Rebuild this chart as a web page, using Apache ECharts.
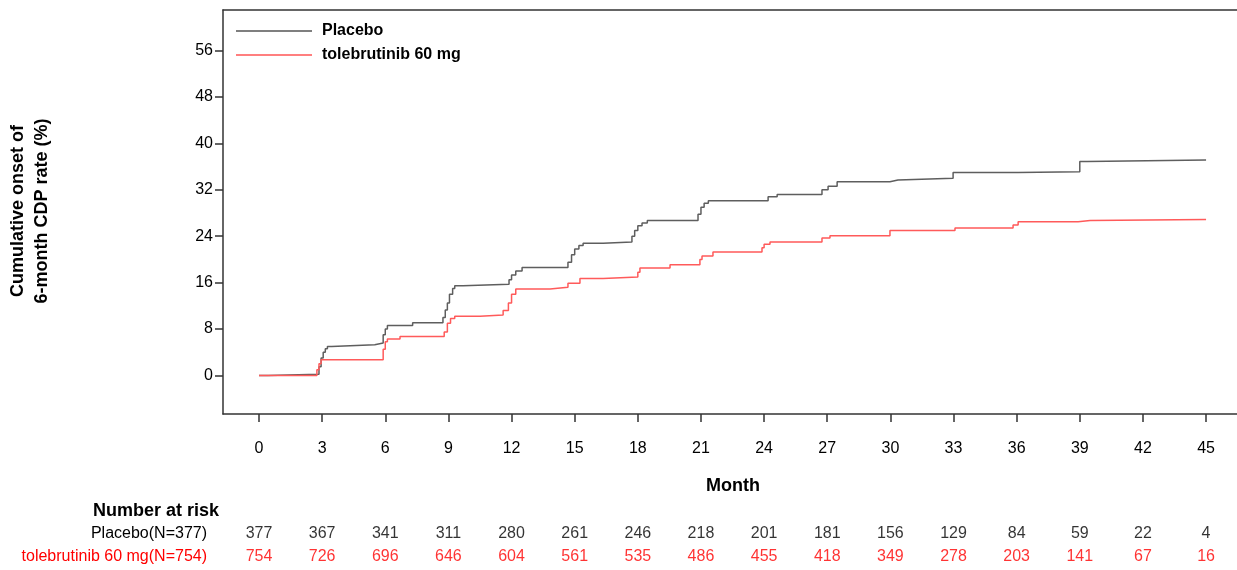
<!DOCTYPE html>
<html><head><meta charset="utf-8">
<script src="https://cdn.jsdelivr.net/npm/echarts@6/dist/echarts.min.js"></script>
<style>html,body{margin:0;padding:0;background:#fff}#c{width:1237px;height:570px}</style>
</head><body><div id="c"></div>
<script>
// ---------- data ----------
const monthTicks = [0,3,6,9,12,15,18,21,24,27,30,33,36,39,42,45];
const yTicks = [0,8,16,24,32,40,48,56];
const seriesNames = ['Placebo', 'tolebrutinib 60 mg'];
const riskRowLabels = ['Placebo(N=377)', 'tolebrutinib 60 mg(N=754)'];
const placeboAtRisk = [377,367,341,311,280,261,246,218,201,181,156,129,84,59,22,4];
const toleAtRisk    = [754,726,696,646,604,561,535,486,455,418,349,278,203,141,67,16];

const placeboCurve = [
  [0,0],[0.43,0.2],[2.85,1.5],[2.95,3.0],[3.05,4.0],[3.15,4.6],[3.25,5.0],[3.45,5.3],
  [5.5,5.6],[5.9,7.0],[6.0,8.0],[6.1,8.6],[7.3,9.1],
  [8.74,10.0],[8.85,11.3],[8.95,12.5],[9.05,14.0],[9.2,15.0],[9.3,15.45],[9.69,15.7],
  [11.88,16.5],[12.0,17.3],[12.2,18.0],[12.5,18.6],
  [14.68,19.5],[14.85,20.8],[15.0,21.8],[15.2,22.4],[15.4,22.8],[16.35,23.0],
  [17.72,24.0],[17.85,25.0],[18.0,25.8],[18.2,26.3],[18.45,26.7],
  [20.86,27.8],[21.0,29.0],[21.15,29.7],[21.35,30.1],
  [24.19,30.8],[24.62,31.2],[26.75,32.0],[27.04,32.6],[27.47,33.4],
  [29.98,33.7],[30.36,34.0],[32.98,35.0],[36.07,35.1],[39.0,36.9],[39.35,37.15],[45.0,37.15]
];
const toleCurve = [
  [0,0],[2.75,1.0],[2.85,2.0],[2.95,2.7],
  [5.9,4.5],[6.0,5.8],[6.1,6.3],[6.7,6.7],
  [8.8,7.5],[8.95,9.0],[9.1,9.8],[9.3,10.2],[10.5,10.4],
  [11.6,11.2],[11.85,12.5],[12.0,14.0],[12.2,14.9],
  [13.83,15.2],[14.68,15.9],[15.25,16.7],[16.35,16.95],
  [18.0,17.8],[18.1,18.5],[19.53,19.06],
  [20.95,20.0],[21.05,20.6],[21.57,21.3],
  [23.9,22.0],[24.0,22.6],[24.28,23.0],[26.75,23.7],[27.13,24.1],
  [29.98,25.0],[33.07,25.4],[35.83,25.95],[36.07,26.5],[38.92,26.7],[39.49,26.9],[45.0,26.9]
];

// ---------- chart ----------
const FONT = '"Liberation Sans",Arial,sans-serif';
const FS = 16;
const X_MIN = -1.711, X_MAX = 46.47;
const Y_MIN = -6.65, Y_MAX = 63;
const axisCol = '#333';

const chart = echarts.init(document.getElementById('c'), null, {renderer:'canvas'});

const riskData = [];
monthTicks.forEach((m,i)=>{
  riskData.push({value:[m,1,placeboAtRisk[i]], label:{color:'#000'}});
  riskData.push({value:[m,0,toleAtRisk[i]], label:{color:'#ff0000'}});
});

chart.setOption({
  animation:false,
  backgroundColor:'#fff',
  textStyle:{fontFamily:FONT},
  grid:[
    {left:223, right:0, top:10, bottom:156, outerBoundsMode:'none', containLabel:false},
    {left:223, right:0, top:522, height:46, outerBoundsMode:'none', containLabel:false}
  ],
  legend:{
    orient:'vertical', left:236, top:23, padding:0, itemGap:8, itemWidth:76, itemHeight:1.2,
    icon:'rect',
    textStyle:{fontFamily:FONT, fontSize:16, fontWeight:'bold', color:'#000', padding:[0,0,0,5]},
    data:[
      {name:seriesNames[0], itemStyle:{color:'#000'}},
      {name:seriesNames[1], itemStyle:{color:'#ff0000'}}
    ]
  },
  xAxis:[
    {type:'value', gridIndex:0, min:X_MIN, max:X_MAX, position:'bottom',
     axisLine:{show:true, onZero:false, lineStyle:{color:axisCol, width:1.5}},
     axisTick:{show:true, length:8, customValues:monthTicks, lineStyle:{color:axisCol, width:1.5}},
     axisLabel:{show:true, customValues:monthTicks, margin:27, fontSize:FS, color:'#000', fontFamily:FONT},
     splitLine:{show:false}},
    {type:'value', gridIndex:0, min:X_MIN, max:X_MAX, position:'top',
     axisLine:{show:true, onZero:false, lineStyle:{color:axisCol, width:1.5}},
     axisTick:{show:false}, axisLabel:{show:false}, splitLine:{show:false}},
    {type:'value', gridIndex:1, min:X_MIN, max:X_MAX, show:false}
  ],
  yAxis:[
    {type:'value', gridIndex:0, min:Y_MIN, max:Y_MAX,
     axisLine:{show:true, onZero:false, lineStyle:{color:axisCol, width:1.5}},
     axisTick:{show:true, length:8, customValues:yTicks, lineStyle:{color:axisCol, width:1.5}},
     axisLabel:{show:true, customValues:yTicks, margin:10, fontSize:FS, color:'#000', fontFamily:FONT},
     splitLine:{show:false}},
    {type:'category', gridIndex:1, data:[riskRowLabels[1], riskRowLabels[0]],
     axisLine:{show:false}, axisTick:{show:false}, splitLine:{show:false},
     axisLabel:{show:true, interval:0, hideOverlap:false, margin:16, fontSize:FS, fontFamily:FONT,
       formatter:(v)=> v===riskRowLabels[0] ? '{p|'+v+'}' : '{t|'+v+'}',
       rich:{p:{color:'#000', fontSize:FS, fontFamily:FONT}, t:{color:'#ff0000', fontSize:FS, fontFamily:FONT}}}}
  ],
  graphic:[
    {type:'text', left:93, top:502, style:{text:'Number at risk', font:'bold 18px '+FONT, fill:'#000'}},
    {type:'text', x:733, y:486, style:{text:'Month', font:'bold 18px '+FONT, fill:'#000', align:'center', verticalAlign:'middle'}},
    {type:'text', x:18, y:211, rotation:Math.PI/2, style:{text:'Cumulative onset of', font:'bold 18px '+FONT, fill:'#000', align:'center', verticalAlign:'middle'}},
    {type:'text', x:42, y:211, rotation:Math.PI/2, style:{text:'6-month CDP rate (%)', font:'bold 18px '+FONT, fill:'#000', align:'center', verticalAlign:'middle'}}
  ],
  series:[
    {name:seriesNames[0], type:'line', xAxisIndex:0, yAxisIndex:0, step:'end', symbol:'none',
     data:placeboCurve, lineStyle:{color:'#5e5e5e', width:1.5}, itemStyle:{color:'#5e5e5e'}},
    {name:seriesNames[1], type:'line', xAxisIndex:0, yAxisIndex:0, step:'end', symbol:'none',
     data:toleCurve, lineStyle:{color:'#ff5a5a', width:1.5}, itemStyle:{color:'#ff5a5a'}},
    {name:'risk', type:'scatter', xAxisIndex:2, yAxisIndex:1, symbolSize:1,
     itemStyle:{color:'rgba(0,0,0,0)'}, silent:true,
     label:{show:true, position:'inside', fontSize:FS, fontFamily:FONT, formatter:(p)=>String(p.value[2])},
     data:riskData}
  ]
});
</script></body></html>
